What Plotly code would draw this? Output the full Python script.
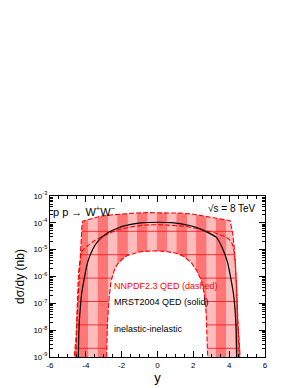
import numpy as np
import plotly.graph_objects as go

# ---------------- data (dσ/dy in nb vs rapidity y) ----------------
# NNPDF2.3 QED uncertainty band: upper edge
upper_y = [-4.70, -4.65, -4.55, -4.50, -4.42, -4.35, -4.27, -4.22, -4.17, -3.70, -3.20, -2.50,
           -2.00, -1.30, -0.50, 0.00, 0.50, 1.30, 2.00, 2.50, 3.00, 3.50, 4.05, 4.12, 4.20,
           4.27, 4.35, 4.42, 4.47, 4.55, 4.65, 4.70]
upper_v = [1e-10, 1e-9, 5e-9, 2e-8, 3e-7, 3e-6, 2e-5, 7e-5, 1.15e-4, 1.4e-4, 1.75e-4, 2.0e-4,
           2.15e-4, 2.3e-4, 2.4e-4, 2.4e-4, 2.35e-4, 2.3e-4, 2.1e-4, 1.8e-4, 1.6e-4, 1.4e-4, 1.2e-4, 8e-5, 4e-5,
           1.5e-5, 3e-6, 3e-7, 2e-8, 5e-9, 1e-9, 1e-10]
# NNPDF2.3 QED uncertainty band: lower edge
lower_y = [-4.70, -2.86, -2.84, -2.79, -2.70, -2.60, -2.50, -2.40, -2.25, -2.00, -1.70, -1.30,
           -1.00, -0.50, 0.00, 0.50, 1.00, 1.50, 1.90, 2.20, 2.45, 2.60, 2.72, 2.80, 2.82, 4.70]
lower_v = [1e-10, 1e-10, 1e-9, 2e-8, 1.6e-7, 6e-7, 1.1e-6, 1.8e-6, 2.8e-6, 4.2e-6, 6e-6, 7.5e-6,
           8.3e-6, 8.8e-6, 9e-6, 8.5e-6, 7.5e-6, 5.5e-6, 3.2e-6, 1.6e-6, 7e-7, 2.5e-7, 4e-8, 1e-9, 1e-10, 1e-10]
# NNPDF2.3 QED central (dashed)
nnpdf_y = [-4.55, -4.50, -4.45, -4.40, -4.30, -4.20, -3.90, -3.50, -3.20, -2.70, -2.30, -1.80,
           -1.30, -0.60, 0.00, 0.60, 1.50, 2.20, 2.80, 3.30, 3.70, 4.00, 4.20, 4.30, 4.38, 4.45, 4.52, 4.56]
nnpdf_v = [1e-9, 3e-8, 3e-7, 1.5e-6, 5e-6, 9e-6, 1.4e-5, 2.2e-5, 2.8e-5, 4e-5, 5.2e-5, 6.3e-5,
           7.4e-5, 8.3e-5, 8.5e-5, 8.2e-5, 7.4e-5, 6.2e-5, 5e-5, 4e-5, 3.2e-5, 2.4e-5, 1.5e-5, 6e-6, 1e-6, 1e-7, 6e-9, 1e-9]
# MRST2004 QED (solid)
mrst_y = [-4.42, -4.40, -4.37, -4.30, -4.25, -4.10, -3.91, -3.63, -3.26, -2.79, -2.30, -1.86,
          -0.93, 0.00, 0.93, 1.86, 2.30, 2.80, 3.30, 3.63, 3.90, 4.10, 4.25, 4.37, 4.42]
mrst_v = [1e-9, 4e-9, 1.8e-8, 8e-8, 1.9e-7, 7.6e-7, 3.2e-6, 1e-5, 2.3e-5, 4.2e-5, 6e-5, 7.7e-5,
          1e-4, 1.05e-4, 1e-4, 7.8e-5, 6.2e-5, 4.4e-5, 2.8e-5, 1.1e-5, 3.5e-6, 8e-7, 2e-7, 2e-8, 1e-9]
# alternating shaded bins of the band
stripe_edges = [-4.7, -3.85, -3.35, -2.75, -2.25, -1.65, -1.15, -0.55, -0.05, 0.55, 1.05,
                1.65, 2.15, 2.75, 3.25, 3.85, 4.35, 4.7]

x_ticks = [-6, -4, -2, 0, 2, 4, 6]
y_exps = [-3, -4, -5, -6, -7, -8, -9]

# ---------------- styling ----------------
DARK = "rgb(255,118,118)"
LIGHT = "rgb(255,188,188)"
RED = "rgb(255,0,0)"
FONT = "Liberation Sans, Arial, sans-serif"
YMIN, YMAX = -9, -3

lu_y, lu_v = np.array(upper_y), np.log10(upper_v)
ll_y, ll_v = np.array(lower_y), np.log10(lower_v)

def up(x):
    return np.interp(x, lu_y, lu_v)

def lo(x):
    return np.interp(x, ll_y, ll_v)

fig = go.Figure()

# band, drawn bin by bin with alternating shades
for i in range(len(stripe_edges) - 1):
    a, b = stripe_edges[i], stripe_edges[i + 1]
    pts = set(np.linspace(a, b, 12).tolist())
    pts.update([v for v in upper_y if a < v < b])
    pts.update([v for v in lower_y if a < v < b])
    xs = np.array(sorted(pts))
    yu = 10 ** up(xs)
    yl = 10 ** lo(xs)
    fig.add_trace(go.Scatter(
        x=np.concatenate([xs, xs[::-1]]), y=np.concatenate([yu, yl[::-1]]),
        fill="toself", fillcolor=DARK if i % 2 == 0 else LIGHT,
        line=dict(width=0), mode="lines", hoverinfo="skip", showlegend=False))

# horizontal pattern lines of the band fill (fixed pixel spacing)
plot_top, plot_h = 188.0, 161.0
for p in np.arange(223.3, 349, 23.4):
    L = YMAX - (p - plot_top) / plot_h * (YMAX - YMIN)
    xx = np.arange(-4.7, 4.7001, 0.005)
    inside = (up(xx) > L) & (lo(xx) < L)
    segx, segy = [], []
    for x0, ins in zip(xx, inside):
        if ins:
            segx.append(x0); segy.append(10 ** L)
        elif segx and segx[-1] is not None:
            segx.append(None); segy.append(None)
    fig.add_trace(go.Scatter(x=segx, y=segy, mode="lines",
                             line=dict(color="rgba(235,20,20,0.9)", width=0.9),
                             hoverinfo="skip", showlegend=False))

# band edges (dashed)
fig.add_trace(go.Scatter(x=upper_y, y=upper_v, mode="lines",
                         line=dict(color=RED, width=1.1, dash="5px,2px"), showlegend=False))
inner = [(x, v) for x, v in zip(lower_y, lower_v) if v >= 1e-9]
fig.add_trace(go.Scatter(x=[p[0] for p in inner], y=[p[1] for p in inner], mode="lines",
                         line=dict(color=RED, width=1.1, dash="5px,2px"), showlegend=False))
# NNPDF central
fig.add_trace(go.Scatter(x=nnpdf_y, y=nnpdf_v, mode="lines", line_shape="spline",
                         line=dict(color=RED, width=1.1, dash="5px,2px", smoothing=0.5), showlegend=False))
# MRST2004 QED
fig.add_trace(go.Scatter(x=mrst_y, y=mrst_v, mode="lines", line_shape="spline",
                         line=dict(color="black", width=1.2, smoothing=0.5), showlegend=False))

def ann(text, x, ylog, anchor, color="black", size=9):
    fig.add_annotation(text=text, x=x, y=ylog, xref="x", yref="y", xanchor=anchor,
                       yanchor="middle", showarrow=False,
                       font=dict(family=FONT, size=size, color=color))

ann("p p → W<sup>+</sup>W<sup>−</sup>", -5.97, -3.55, "left", size=11)
ann("√s = 8 TeV", 5.6, -3.45, "right", size=10)
ann("NNPDF2.3 QED (dashed)", -2.55, -6.36, "left", color=RED)
ann("MRST2004 QED (solid)", -2.55, -6.95, "left")
ann("inelastic-inelastic", -2.55, -7.96, "left")

fig.update_layout(
    width=300, height=388,
    margin=dict(l=42, r=43, t=188, b=39),
    paper_bgcolor="white", plot_bgcolor="white",
    font=dict(family=FONT, color="black"),
    showlegend=False,
)
fig.update_xaxes(
    range=[-6, 6], tickmode="array", tickvals=x_ticks, ticktext=[str(v) for v in x_ticks],
    ticks="inside", ticklen=6, tickwidth=1, tickcolor="black",
    minor=dict(ticks="inside", ticklen=3, dtick=0.5, tickcolor="black"),
    showline=True, linecolor="black", linewidth=1.2, mirror="allticks",
    showgrid=False, zeroline=False, tickfont=dict(size=8),
    title=dict(text="y", font=dict(size=13), standoff=2),
)
fig.update_yaxes(
    type="log", range=[YMIN, YMAX],
    tickmode="array", tickvals=[10.0 ** e for e in y_exps],
    ticktext=["10<sup>%d</sup>" % e for e in y_exps],
    ticks="inside", ticklen=6, tickwidth=1, tickcolor="black",
    minor=dict(ticks="inside", ticklen=3, dtick="D1", tickcolor="black"),
    showline=True, linecolor="black", linewidth=1.2, mirror="allticks",
    showgrid=False, zeroline=False, tickfont=dict(size=8),
    title=dict(text="dσ/dy (nb)", font=dict(size=12), standoff=6),
)

fig.write_html("out.html")
